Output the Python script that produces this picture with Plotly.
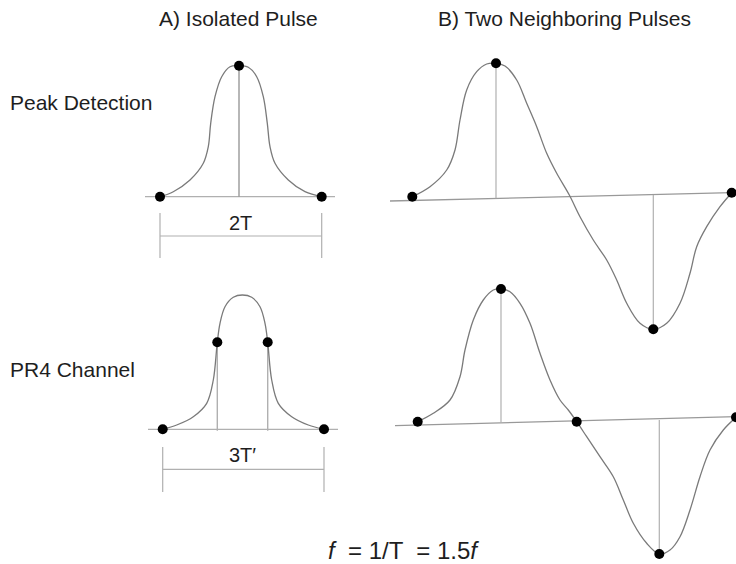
import plotly.graph_objects as go

# ---- Data (diagram coordinates, pixel-like units; y grows downward) ----
# A) isolated pulse, peak detection
pd_curve_x = [160, 173.3, 190, 203.3, 208.3, 210.7, 215, 221.7, 230, 239, 248.3, 256.7, 263.3, 267.3, 270, 275, 288.3, 305, 321.7]
pd_curve_y = [196.7, 191.7, 180, 163.3, 146.7, 123.3, 96.7, 76.7, 66.7, 65.7, 67.3, 76.7, 96.7, 123.3, 146.7, 163.3, 180, 191.7, 196.7]
pd_dots_x = [160, 239, 321.7]
pd_dots_y = [196.7, 65.7, 196.7]

# A) isolated pulse, PR4 channel
pr_curve_x = [162.7, 176.7, 193.3, 206.7, 213.3, 217.3, 220, 225, 233.3, 242.3, 251.7, 260, 265, 267.7, 271.7, 278.3, 291.7, 308.3, 324]
pr_curve_y = [429.3, 425, 416.7, 403.3, 380, 342.3, 323.3, 306.7, 297.3, 295, 297.3, 306.7, 323.3, 342.3, 380, 403.3, 416.7, 425, 429.3]
pr_dots_x = [162.7, 217.3, 267.7, 324]
pr_dots_y = [429.3, 342.3, 342.3, 429.3]

# B) two neighbouring pulses, peak detection
bpd_curve_x = [412.3, 430, 446.7, 455, 460, 466.7, 476.7, 486.7, 496, 505, 516.7, 526.7, 536.7, 546.7, 556.7, 569.3, 580, 593.3, 606.7, 616.7, 626.7, 640, 653.3, 666.7, 680, 690, 696.7, 706.7, 720, 731.7]
bpd_curve_y = [196.7, 186.7, 170, 150, 120, 90, 71.7, 64, 63.3, 66, 80, 103.3, 126.7, 153.3, 173.3, 195, 216.7, 240, 260, 280, 303.3, 323.3, 329.3, 323.3, 303.3, 273.3, 246.7, 226.7, 206.7, 192.7]
bpd_dots_x = [412.3, 496, 653.3, 731.7]
bpd_dots_y = [196.7, 63.3, 329.3, 192.7]
bpd_base_x = [390, 731.7]
bpd_base_y = [201, 192.7]

# B) two neighbouring pulses, PR4 channel
bpr_curve_x = [417.7, 433.3, 450, 460, 465, 473.3, 483.3, 493.3, 501, 510, 520, 530, 540, 550, 560, 568.3, 576.7, 586.7, 600, 613.3, 623.3, 633.3, 646.7, 659.3, 670, 680, 690, 700, 710, 723.3, 736]
bpr_curve_y = [421.7, 413.3, 400, 376.7, 350, 320, 300, 290, 289, 291.7, 303.3, 323.3, 353.3, 380, 400, 410, 421.7, 436.7, 456.7, 476.7, 500, 523.3, 543.3, 554, 550, 536.7, 510, 476.7, 450, 430, 417.3]
bpr_dots_x = [417.7, 501, 576.7, 659.3, 736]
bpr_dots_y = [421.7, 289, 421.7, 554, 417.3]
bpr_base_x = [395, 736]
bpr_base_y = [425.7, 416.7]

# Text labels
col_titles = ["A) Isolated Pulse", "B) Two Neighboring Pulses"]
row_titles = ["Peak Detection", "PR4 Channel"]
span_labels = ["2T", "3T\u2032"]
formula = "<i>f</i>  = 1/T  = 1.5<i>f</i>"

CURVE = "#7a7a7a"
GUIDE = "#b0b0b0"
FONT = "Liberation Sans, Arial, Helvetica, sans-serif"

fig = go.Figure()

def line(xs, ys, color, width):
    fig.add_trace(go.Scatter(x=xs, y=ys, mode="lines", line=dict(color=color, width=width),
                             hoverinfo="skip", showlegend=False))

def curve(xs, ys):
    fig.add_trace(go.Scatter(x=xs, y=ys, mode="lines", line=dict(color=CURVE, width=1.3, shape="spline", smoothing=1.0),
                             hoverinfo="skip", showlegend=False))

def dots(xs, ys):
    fig.add_trace(go.Scatter(x=xs, y=ys, mode="markers", marker=dict(color="black", size=10),
                             hoverinfo="skip", showlegend=False))

# --- A) peak detection ---
line([145, 335], [pd_dots_y[0], pd_dots_y[2]], GUIDE, 1.2)
line([pd_dots_x[1], pd_dots_x[1]], [pd_dots_y[1], pd_dots_y[0]], "#999999", 1.4)
line([pd_dots_x[0], pd_dots_x[0], None, pd_dots_x[2], pd_dots_x[2], None, pd_dots_x[0], pd_dots_x[2]],
     [213, 258, None, 213, 258, None, 236, 236], GUIDE, 1.2)
curve(pd_curve_x, pd_curve_y)
dots(pd_dots_x, pd_dots_y)

# --- A) PR4 ---
line([148, 338], [pr_dots_y[0], pr_dots_y[3]], GUIDE, 1.2)
line([pr_dots_x[1], pr_dots_x[1], None, pr_dots_x[2], pr_dots_x[2]],
     [pr_dots_y[1], 430.7, None, pr_dots_y[2], 430.7], GUIDE, 1.4)
line([pr_dots_x[0], pr_dots_x[0], None, pr_dots_x[3], pr_dots_x[3], None, pr_dots_x[0], pr_dots_x[3]],
     [447, 492, None, 447, 492, None, 469.3, 469.3], GUIDE, 1.2)
curve(pr_curve_x, pr_curve_y)
dots(pr_dots_x, pr_dots_y)

# --- B) peak detection ---
line(bpd_base_x, bpd_base_y, "#999999", 1.3)
line([bpd_dots_x[1], bpd_dots_x[1], None, bpd_dots_x[2], bpd_dots_x[2]],
     [bpd_dots_y[1], 198.3, None, bpd_dots_y[2], 195], GUIDE, 1.2)
curve(bpd_curve_x, bpd_curve_y)
dots(bpd_dots_x, bpd_dots_y)

# --- B) PR4 ---
line(bpr_base_x, bpr_base_y, "#999999", 1.3)
line([bpr_dots_x[1], bpr_dots_x[1], None, bpr_dots_x[3], bpr_dots_x[3]],
     [bpr_dots_y[1], 422.3, None, bpr_dots_y[3], 420], GUIDE, 1.2)
curve(bpr_curve_x, bpr_curve_y)
dots(bpr_dots_x, bpr_dots_y)

def text(x, y, s, size, xanchor="center"):
    fig.add_annotation(x=x, y=y, text=s, showarrow=False, xanchor=xanchor, yanchor="middle",
                       font=dict(family=FONT, size=size, color="#1e1e1e"))

text(238, 18, col_titles[0], 21)
text(564, 18, col_titles[1], 21)
text(8, 102, row_titles[0], 21, "left")
text(8, 369, row_titles[1], 21, "left")
text(240, 223, span_labels[0], 20)
text(242, 455, span_labels[1], 20)
text(403, 550, formula, 24)

fig.update_layout(
    width=736, height=564,
    margin=dict(l=0, r=0, t=0, b=0),
    paper_bgcolor="white", plot_bgcolor="white",
    xaxis=dict(range=[0, 736], visible=False, fixedrange=True),
    yaxis=dict(range=[564, 0], visible=False, fixedrange=True),
    showlegend=False,
)
fig.write_html("out.html", config={"displayModeBar": False},
               post_script="document.body.style.margin='0px';document.body.style.overflow='hidden';")
